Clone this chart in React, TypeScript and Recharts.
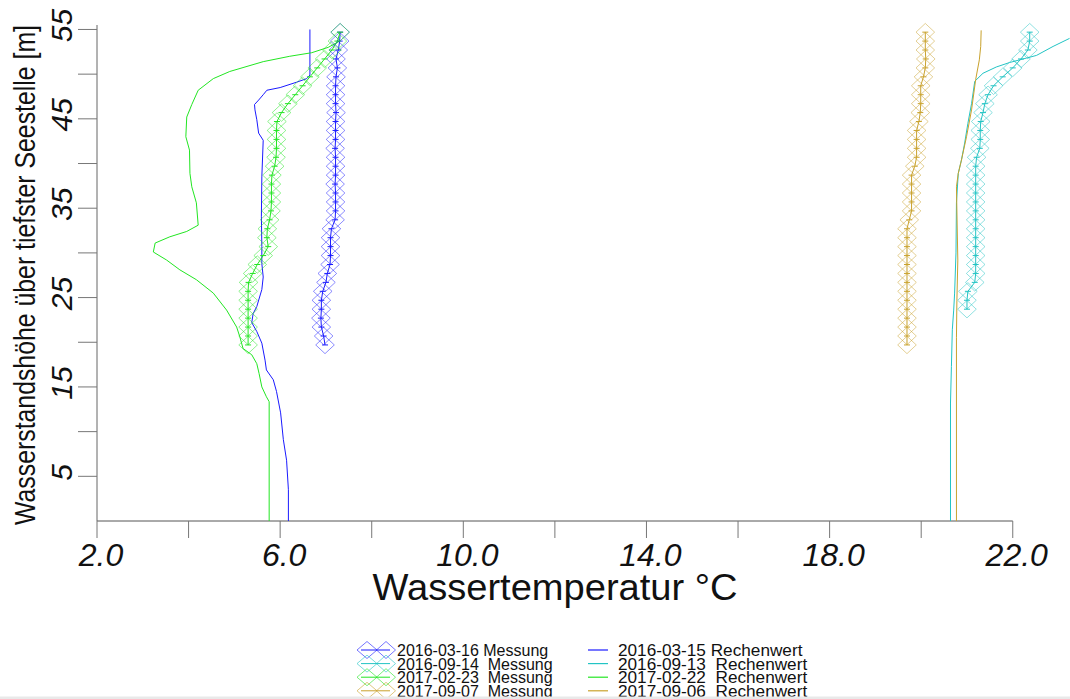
import React from 'react';
import { ComposedChart, Line, XAxis, YAxis, ReferenceLine } from 'recharts';

// Höhen der Sondenmessungen [m über tiefster Seestelle]
const hoehenMessung = [
  54.7, 53.7, 52.7, 51.7, 50.7, 49.7, 48.7, 47.7, 46.7, 45.7, 44.7, 43.7,
  42.7, 41.7, 40.7, 39.7, 38.7, 37.7, 36.7, 35.7, 34.7, 33.7, 32.7, 31.7,
  30.7, 29.7, 28.7, 27.7, 26.7, 25.7, 24.7, 23.7, 22.7, 21.7, 20.7, 19.7,
];
const hoehenMessung20160914 = [
  54.7, 53.7, 52.7, 51.7, 50.7, 49.7, 48.7, 47.7, 46.7, 45.7, 44.7, 43.7,
  42.7, 41.7, 40.7, 39.7, 38.7, 37.7, 36.7, 35.7, 34.7, 33.7, 32.7, 31.7,
  30.7, 29.7, 28.7, 27.7, 26.7, 25.7, 24.7, 23.7,
];

// Gemessene Wassertemperaturen [°C]
const temp20160316 = [
  7.31, 7.30, 7.27, 7.22, 7.25, 7.22, 7.21, 7.21, 7.21, 7.22, 7.21, 7.21,
  7.21, 7.20, 7.21, 7.21, 7.21, 7.20, 7.21, 7.21, 7.21, 7.20, 7.12, 7.10,
  7.10, 7.10, 7.09, 7.03, 7.00, 6.93, 6.90, 6.90, 6.89, 6.90, 6.95, 6.98,
];
const temp20160914 = [
  22.37, 22.37, 22.33, 22.18, 22.0, 21.78, 21.58, 21.46, 21.39, 21.35, 21.30,
  21.29, 21.29, 21.28, 21.21, 21.19, 21.19, 21.19, 21.19, 21.19, 21.19, 21.19,
  21.19, 21.19, 21.19, 21.19, 21.19, 21.19, 21.17, 21.02, 21.0, 21.0,
];
const temp20170223 = [
  7.31, 7.25, 7.13, 6.97, 6.81, 6.65, 6.49, 6.33, 6.17, 6.03, 5.93, 5.92,
  5.92, 5.92, 5.91, 5.88, 5.82, 5.81, 5.81, 5.81, 5.80, 5.77, 5.72, 5.71,
  5.74, 5.63, 5.50, 5.40, 5.31, 5.30, 5.30, 5.30, 5.30, 5.30, 5.30, 5.30,
];
const temp20170907 = [
  20.09, 20.09, 20.09, 20.10, 20.09, 20.05, 19.99, 19.99, 19.99, 19.98, 19.95,
  19.90, 19.90, 19.90, 19.90, 19.86, 19.79, 19.79, 19.79, 19.79, 19.79, 19.74,
  19.69, 19.69, 19.69, 19.69, 19.69, 19.69, 19.69, 19.69, 19.69, 19.69, 19.69,
  19.69, 19.69, 19.69,
];

// Modellprofile (Rechenwerte)
const rwHoehe20160315 = [
  0, 3.5, 6.8, 9.1, 12.1, 14.5, 15.8, 16.9, 18.0, 19.9, 21.2, 22.2, 23.2, 24.0,
  25.9, 27.3, 28.8, 30.7, 34.1, 38.5, 42.6, 43.4, 44.9, 46.0, 46.6, 47.1, 47.7,
  48.2, 48.5, 49.1, 49.5, 49.9, 55.0,
];
const rwTemp20160315 = [
  6.18, 6.18, 6.14, 6.07, 6.01, 5.92, 5.85, 5.70, 5.67, 5.60, 5.49, 5.38, 5.41,
  5.49, 5.60, 5.63, 5.60, 5.60, 5.59, 5.60, 5.63, 5.53, 5.49, 5.45, 5.44, 5.53,
  5.63, 5.71, 6.0, 6.36, 6.58, 6.65, 6.65,
];
const rwHoehe20160913 = [
  0, 13.2, 17.3, 21.4, 23.6, 25.5, 30.0, 35.6, 38.9, 40.4, 42.3, 44.5, 46.7,
  49.2, 50.1, 50.8, 51.3, 51.8, 52.1, 53.1, 54.0,
];
const rwTemp20160913 = [
  20.64, 20.64, 20.66, 20.68, 20.71, 20.73, 20.76, 20.77, 20.81, 20.88, 20.95,
  21.02, 21.10, 21.17, 21.35, 21.64, 21.93, 22.30, 22.52, 22.88, 23.24,
];
const rwHoehe20170222 = [
  0, 13.35, 13.9, 15.0, 16.5, 17.6, 18.6, 19.3, 20.6, 21.7, 23.6, 25.5, 27.0,
  28.1, 29.2, 30.1, 31.1, 31.8, 32.4, 33.1, 35.6, 37.4, 38.9, 41.5, 43.0, 45.2,
  46.6, 48.2, 49.5, 50.3, 51.4, 52.0, 52.4, 53.0, 53.7,
];
const rwTemp20170222 = [
  5.76, 5.76, 5.70, 5.60, 5.54, 5.49, 5.38, 5.19, 5.12, 5.05, 4.83, 4.54, 4.17,
  3.81, 3.52, 3.23, 3.27, 3.59, 3.96, 4.21, 4.17, 4.07, 4.03, 4.02, 3.94, 3.96,
  4.07, 4.21, 4.54, 4.90, 5.63, 6.21, 6.69, 7.05, 7.30,
];
const rwHoehe20170906 = [0, 20.5, 24.7, 29.2, 37.4, 38.9, 40.4, 43.0, 46.0, 49.4, 51.6, 53.1, 54.9];
const rwTemp20170906 = [
  20.77, 20.77, 20.78, 20.80, 20.77, 20.81, 20.88, 20.99, 21.10, 21.19, 21.27,
  21.30, 21.31,
];

// Achsen
const xTicks = [2, 4, 6, 8, 10, 12, 14, 16, 18, 20, 22];
const xLabelTicks = [2, 6, 10, 14, 18, 22];
const yTicks = [5, 10, 15, 20, 25, 30, 35, 40, 45, 50, 55];
const yLabelTicks = [5, 15, 25, 35, 45, 55];

const BLAU = '#1a1aff';
const TUERKIS = '#22c4c4';
const GRUEN = '#22e622';
const GOLD = '#c9a22c';

type Row = { t: number; h: number };
const rows = (t: number[], h: number[]): Row[] => t.map((v, i) => ({ t: v, h: h[i] }));

const messungen = [
  { name: '2016-03-16 Messung', color: BLAU, data: rows(temp20160316, hoehenMessung) },
  { name: '2016-09-14  Messung', color: TUERKIS, data: rows(temp20160914, hoehenMessung20160914) },
  { name: '2017-02-23  Messung', color: GRUEN, data: rows(temp20170223, hoehenMessung) },
  { name: '2017-09-07  Messung', color: GOLD, data: rows(temp20170907, hoehenMessung) },
];
const rechenwerte = [
  { name: '2016-03-15 Rechenwert', color: BLAU, data: rows(rwTemp20160315, rwHoehe20160315) },
  { name: '2016-09-13  Rechenwert', color: TUERKIS, data: rows(rwTemp20160913, rwHoehe20160913) },
  { name: '2017-02-22  Rechenwert', color: GRUEN, data: rows(rwTemp20170222, rwHoehe20170222) },
  { name: '2017-09-06  Rechenwert', color: GOLD, data: rows(rwTemp20170906, rwHoehe20170906) },
];

const FONT = "'Liberation Sans', Arial, sans-serif";

const diamondPath = (cx: number, cy: number, hw = 9.3, hh = 8.7) =>
  `M${cx} ${cy - hh}L${cx + hw} ${cy}L${cx} ${cy + hh}L${cx - hw} ${cy}Z`;

const makeDot = (color: string) => (props: any) => {
  const { cx, cy, index } = props;
  if (cx == null || cy == null) return <g key={`n-${index}`} />;
  return (
    <g key={`d-${index}`}>
      <path d={diamondPath(cx, cy)} fill="none" stroke={color} strokeOpacity={0.5} strokeWidth={1} />
      <line x1={cx - 3} x2={cx + 3} y1={cy} y2={cy} stroke={color} strokeWidth={1} />
    </g>
  );
};

const XTick = (props: any) => {
  const { x, y, payload } = props;
  const v = payload.value as number;
  if (!xLabelTicks.includes(v)) return <g />;
  return (
    <text x={x + 4} y={y + 28} textAnchor="middle" fontStyle="italic" fontSize={32} fontFamily={FONT} fill="#111">
      {v.toFixed(1)}
    </text>
  );
};

const YTick = (props: any) => {
  const { x, y, payload } = props;
  const v = payload.value as number;
  if (!yLabelTicks.includes(v)) return <g />;
  const bx = x - 6;
  const by = y - 4;
  return (
    <text x={bx} y={by} transform={`rotate(-90 ${bx} ${by})`} textAnchor="middle" fontStyle="italic" fontSize={30} fontFamily={FONT} fill="#111">
      {v}
    </text>
  );
};

const Legende = () => {
  const baselines = [656, 669.6, 683.2, 696.8];
  return (
    <g fontFamily={FONT} fill="#111">
      {messungen.map((s, i) => {
        const cy = baselines[i] - 6;
        return (
          <g key={s.name}>
            <line x1={361} x2={390} y1={cy} y2={cy} stroke={s.color} strokeWidth={1} />
            <path d={diamondPath(367, cy, 10, 8.5)} fill="none" stroke={s.color} strokeOpacity={0.6} />
            <path d={diamondPath(386, cy, 9.5, 8.5)} fill="none" stroke={s.color} strokeOpacity={0.6} />
            <text x={397} y={baselines[i]} fontSize={16} style={{ whiteSpace: 'pre' }}>
              {s.name}
            </text>
          </g>
        );
      })}
      {rechenwerte.map((s, i) => {
        const cy = baselines[i] - 6;
        return (
          <g key={s.name}>
            <line x1={588} x2={608} y1={cy} y2={cy} stroke={s.color} strokeWidth={1.2} />
            <text x={618} y={baselines[i]} fontSize={17.2} style={{ whiteSpace: 'pre' }}>
              {s.name}
            </text>
          </g>
        );
      })}
    </g>
  );
};

export default function App() {
  return (
    <div style={{ position: 'fixed', left: 0, top: 0, width: 1070, height: 699, background: '#fff', overflow: 'hidden' }}>
      <ComposedChart width={1070} height={699} margin={{ top: 25, right: 0, bottom: 0, left: 0 }}>
        <XAxis
          dataKey="t"
          type="number"
          domain={[2, 23.25]}
          ticks={xTicks}
          interval={0}
          axisLine={false}
          tickLine={{ stroke: '#777' }}
          tickSize={17}
          tickMargin={0}
          tick={<XTick />}
          height={178}
        />
        <YAxis
          type="number"
          domain={[0, 55.5]}
          ticks={yTicks}
          interval={0}
          axisLine={{ stroke: '#666' }}
          tickLine={{ stroke: '#777' }}
          tickSize={19}
          tickMargin={0}
          tick={<YTick />}
          width={97}
        />
        <ReferenceLine segment={[{ x: 2, y: 0 }, { x: 22, y: 0 }]} stroke="#555" strokeWidth={1} ifOverflow="visible" />
        {rechenwerte.map((s) => (
          <Line
            key={s.name}
            name={s.name}
            data={s.data}
            dataKey="h"
            type="linear"
            stroke={s.color}
            strokeWidth={1}
            dot={false}
            activeDot={false}
            isAnimationActive={false}
          />
        ))}
        {messungen.map((s) => (
          <Line
            key={s.name}
            name={s.name}
            data={s.data}
            dataKey="h"
            type="linear"
            stroke={s.color}
            strokeWidth={1}
            dot={makeDot(s.color)}
            activeDot={false}
            isAnimationActive={false}
          />
        ))}
      </ComposedChart>
      <svg width={1070} height={699} style={{ position: 'absolute', left: 0, top: 0, pointerEvents: 'none' }}>
        <text
          x={35}
          y={275}
          transform="rotate(-90 35 275)"
          textAnchor="middle"
          fontSize={30}
          fontFamily={FONT}
          fill="#111"
          textLength={500}
          lengthAdjust="spacingAndGlyphs"
        >
          Wasserstandshöhe über tiefster Seestelle [m]
        </text>
        <text x={555} y={600} textAnchor="middle" fontSize={37} fontFamily={FONT} fill="#111" textLength={365} lengthAdjust="spacingAndGlyphs">
          Wassertemperatur °C
        </text>
        <Legende />
        <rect x={0} y={696.5} width={1070} height={2.5} fill="#e9e9e9" />
      </svg>
    </div>
  );
}
